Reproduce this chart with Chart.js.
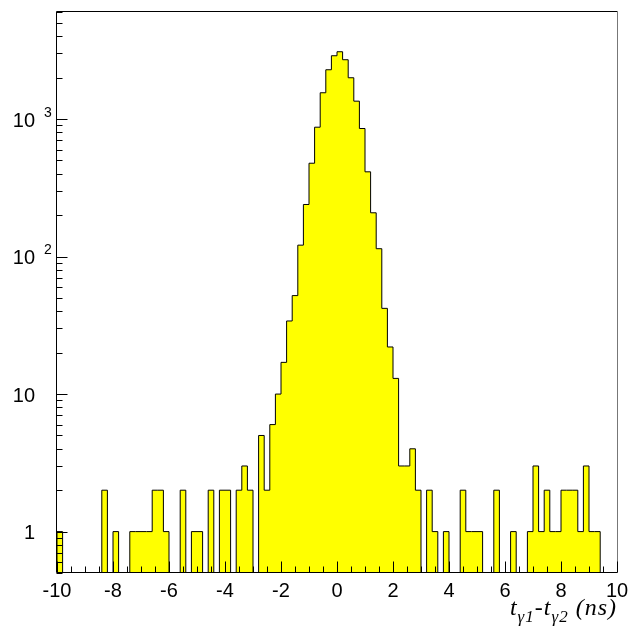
<!DOCTYPE html>
<html><head><meta charset="utf-8">
<script src="https://cdn.jsdelivr.net/npm/chart.js@4/dist/chart.umd.min.js"></script>
<style>html,body{margin:0;padding:0;background:#fff;}canvas{display:block;}</style>
</head><body>
<canvas id="c" width="640" height="631"></canvas>
<script>
// ---- data ----
const binLow = -10;
const binHigh = 10;
const binWidth = 0.2;
const counts = [
  1, 0, 0, 0, 0, 0, 0, 0, 2, 0,
  1, 0, 0, 1, 1, 1, 1, 2, 2, 1,
  0, 0, 2, 0, 1, 1, 0, 2, 0, 2,
  2, 0, 2, 3, 2, 0, 5, 2, 6, 10,
  17, 34, 52, 121, 239, 477, 872, 1552, 2281, 2884,
  3084, 2698, 1995, 1348, 853, 413, 208, 114, 42, 22,
  13, 3, 3, 4, 2, 0, 2, 1, 0, 1,
  0, 0, 2, 1, 1, 1, 0, 0, 2, 0,
  0, 1, 0, 0, 1, 3, 1, 2, 1, 1,
  2, 2, 2, 1, 3, 1, 1, 0, 0, 0
];
const xTickLabels = ['-10', '-8', '-6', '-4', '-2', '0', '2', '4', '6', '8', '10'];
const yTickValues = [1, 10, 100, 1000];
const yTickBase = ['1', '10', '10', '10'];
const yTickExp = ['', '', '2', '3'];
const yMin = 0.5;
const yMax = 6100;
const xTitleParts = [
  { t: 't', sub: false }, { t: 'γ1', sub: true },
  { t: '-t', sub: false }, { t: 'γ2', sub: true },
  { t: ' (ns)', sub: false }
];

// ---- build step points (left edge of each bin) ----
const pts = [{ x: binLow, y: yMin }];
counts.forEach((c, i) => pts.push({ x: binLow + i * binWidth, y: c > 0 ? c : yMin }));
pts.push({ x: binHigh, y: yMin });

const SANS = 'Arial, "Liberation Sans", sans-serif';
const SERIF = '"Liberation Serif", "Times New Roman", serif';

const rootAxes = {
  id: 'rootAxes',
  afterDraw(chart) {
    const ctx = chart.ctx;
    const xs = chart.scales.x, ys = chart.scales.y;
    const a = chart.chartArea;
    const L = Math.round(a.left) - 0.5, R = Math.round(a.right) + 0.5;
    const T = Math.round(a.top) + 0.5, B = Math.round(a.bottom) - 0.5;
    ctx.save();
    ctx.lineWidth = 1;
    // frame
    ctx.strokeStyle = '#000';
    ctx.beginPath();
    ctx.moveTo(L, B); ctx.lineTo(R, B);
    ctx.moveTo(L, B); ctx.lineTo(L, T);
    ctx.moveTo(L, T); ctx.lineTo(R, T);
    ctx.stroke();
    ctx.strokeStyle = '#777';
    ctx.beginPath(); ctx.moveTo(R, T); ctx.lineTo(R, B); ctx.stroke();
    // x ticks
    ctx.strokeStyle = '#000';
    ctx.beginPath();
    for (let k = 0; k <= 40; k++) {
      const v = binLow + k * 0.5;
      const px = Math.round(xs.getPixelForValue(v)) + 0.5;
      const len = (k % 4 === 0) ? 11 : 6;
      ctx.moveTo(px, B); ctx.lineTo(px, B - len);
    }
    // y ticks
    for (let d = 0.1; d <= 1000; d *= 10) {
      for (let m = 1; m <= 9; m++) {
        const v = m * d;
        if (v < yMin * 0.999 || v > yMax) continue;
        const py = Math.round(ys.getPixelForValue(v)) + 0.5;
        const len = (m === 1) ? 11 : 6;
        ctx.moveTo(L, py); ctx.lineTo(L + len, py);
      }
    }
    ctx.stroke();
    // x labels
    ctx.fillStyle = '#000';
    ctx.font = '20px ' + SANS;
    ctx.textAlign = 'center';
    ctx.textBaseline = 'alphabetic';
    xTickLabels.forEach(s => {
      const v = parseFloat(s);
      ctx.fillText(s, xs.getPixelForValue(v), 597);
    });
    // y labels
    yTickValues.forEach((v, i) => {
      const py = ys.getPixelForValue(v);
      ctx.font = '20px ' + SANS;
      ctx.textAlign = 'right';
      ctx.fillText(yTickBase[i], 35, py + 7.5);
      if (yTickExp[i]) {
        ctx.font = '14px ' + SANS;
        ctx.textAlign = 'left';
        ctx.fillText(yTickExp[i], 44, py - 2.5);
      }
    });
    // x title (right aligned at axis end)
    const mainF = 'italic 24px ' + SERIF, subF = 'italic 17px ' + SERIF;
    ctx.letterSpacing = '1px';
    let total = 0;
    const widths = xTitleParts.map(p => { ctx.font = p.sub ? subF : mainF; const w = ctx.measureText(p.t).width; total += w; return w; });
    let x = 617 - total;
    ctx.textAlign = 'left';
    xTitleParts.forEach((p, i) => {
      ctx.font = p.sub ? subF : mainF;
      ctx.fillText(p.t, x, p.sub ? 622 : 614.5);
      x += widths[i];
    });
    ctx.restore();
  }
};

new Chart(document.getElementById('c'), {
  type: 'line',
  data: {
    datasets: [{
      data: pts,
      stepped: 'before',
      fill: 'start',
      backgroundColor: '#ffff00',
      borderColor: '#000',
      borderWidth: 1,
      pointRadius: 0,
      tension: 0
    }]
  },
  options: {
    responsive: false,
    animation: false,
    events: [],
    layout: { padding: { left: 57, right: 23, top: 11, bottom: 58 } },
    plugins: { legend: { display: false }, tooltip: { enabled: false } },
    scales: {
      x: { type: 'linear', min: binLow, max: binHigh, display: false },
      y: { type: 'logarithmic', min: yMin, max: yMax, display: false }
    }
  },
  plugins: [rootAxes]
});
</script>
</body></html>
